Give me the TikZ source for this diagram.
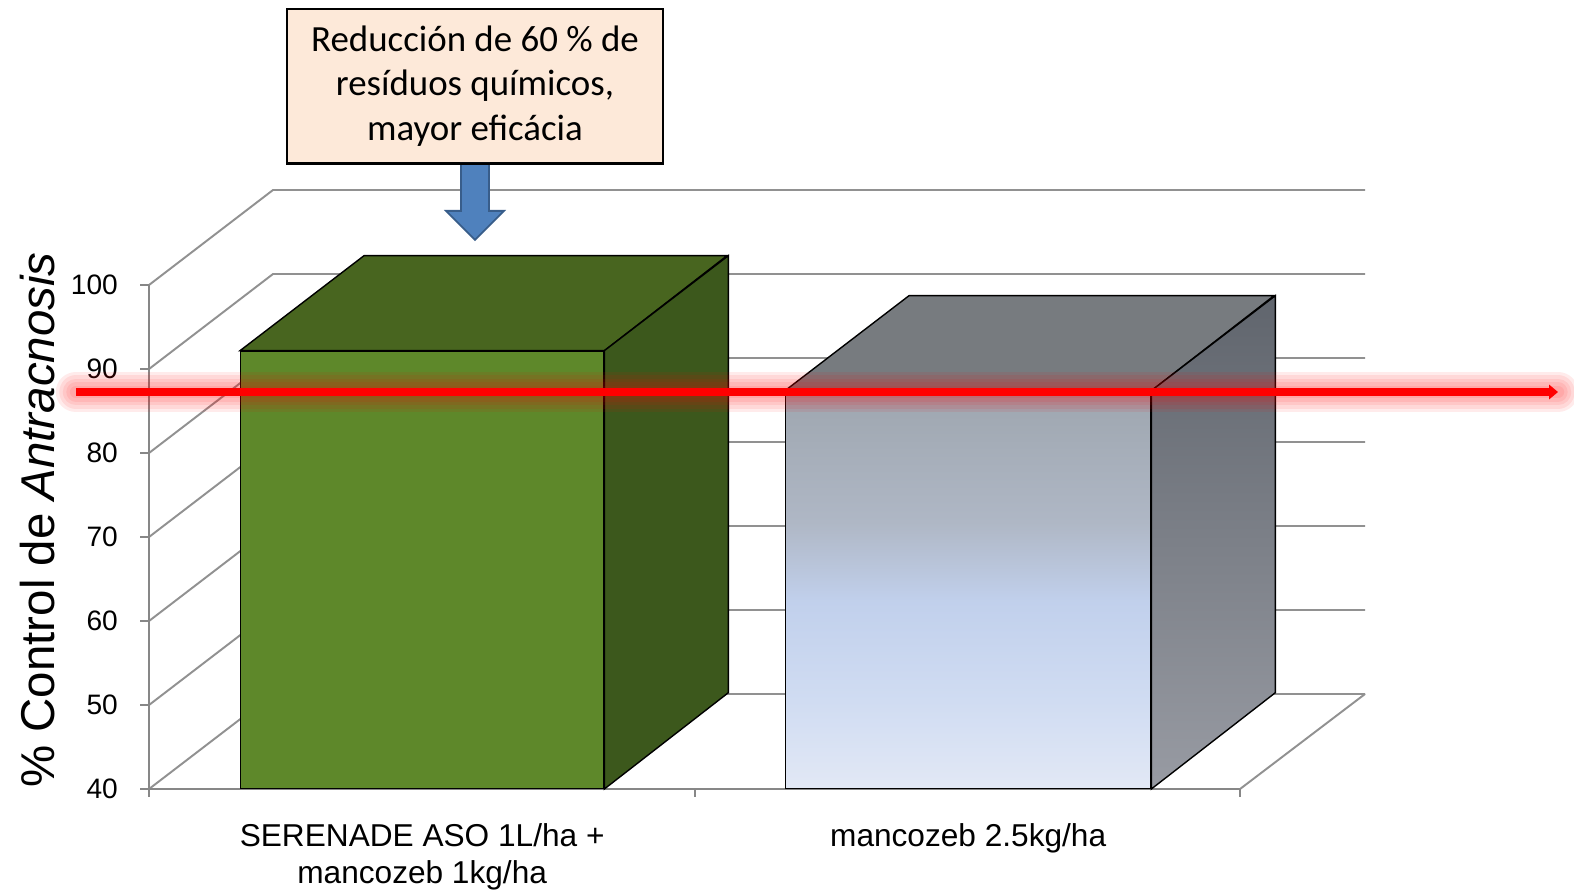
\documentclass[tikz,border=0pt]{standalone}
\usepackage{fontspec}
\setmainfont{Liberation Sans}
\newfontfamily\notefont{Carlito}
\usetikzlibrary{positioning,arrows.meta}

\definecolor{gridgray}{RGB}{145,145,145}
\definecolor{axisgray}{RGB}{135,135,135}
\definecolor{greenfront}{RGB}{94,136,42}
\definecolor{greentop}{RGB}{72,101,31}
\definecolor{greenside}{RGB}{60,88,28}
\definecolor{graytop}{RGB}{119,123,127}
\definecolor{notefill}{RGB}{253,233,217}
\definecolor{arrowblue}{RGB}{79,129,189}
\definecolor{arrowedge}{RGB}{56,93,138}

\pgfdeclareverticalshading{barblue}{100bp}{%
    rgb(0bp)=(0.886,0.910,0.961);
    rgb(25bp)=(0.886,0.910,0.961);
    rgb(36bp)=(0.816,0.863,0.949);
    rgb(48.5bp)=(0.757,0.816,0.925);
    rgb(58.5bp)=(0.686,0.718,0.773);
    rgb(75bp)=(0.620,0.651,0.686);
    rgb(100bp)=(0.620,0.651,0.686)}

\begin{document}
\begin{tikzpicture}[
    x=0.02cm, y=-0.02cm,
    every node/.style={font=\fontsize{16}{19}\selectfont},
    grid/.style={gridgray, line width=1.1pt},
    axis/.style={axisgray, line width=1.4pt},
    face/.style={draw=black, line width=0.8pt},
    front/.style={face, inner sep=0pt, anchor=south west},
    ticklabel/.style={anchor=east, font=\fontsize{16}{19}\selectfont},
    catlabel/.style={align=center, anchor=north, font=\fontsize{18}{21}\selectfont},
    note/.style={draw, line width=1pt, fill=notefill, minimum width=7.52cm, minimum height=3.08cm, align=center, font=\notefont\fontsize{21}{25.5}\selectfont}
]

\fill[white] (0,0) rectangle (1574,890);
\useasboundingbox (0,0) rectangle (1574,890);

% 网格线（后墙和左墙）
\foreach \v in {0,...,6} {
    \pgfmathsetmacro\yy{789-84*\v}
    \pgfmathtruncatemacro\lab{40+10*\v}
    \draw[grid] (149,\yy) -- ++(124,-95) -- (1365,{\yy-95});
    \draw[axis] (140,\yy) -- (149,\yy);
    \node[ticklabel] (tick\lab) at (124,\yy) {\lab};
}

% 坐标轴和底面
\draw[axis] (149,285) -- (149,797);
\draw[axis] (149,789) -- (1240,789);
\draw[grid] (1240,789) -- (1365,694);
\draw[axis] (695,789) -- (695,797);
\draw[axis] (1240,789) -- (1240,797);

% 第一根柱子
\node[front, fill=greenfront, minimum width=7.26cm, minimum height=8.74cm] (bar1) at (240,789) {};
\draw[face, fill=greentop] (bar1.north west) -- ++(124,-95) -- ++(363,0) -- (bar1.north east) -- cycle;
\draw[face, fill=greenside] (bar1.north east) -- ++(124,-95) -- ++(0,437) -- (bar1.south east) -- cycle;

% 第二根柱子
\node[front, minimum width=7.3cm, minimum height=7.94cm, shading=barblue] (bar2) at (785,789) {};
\draw[face, fill=graytop] (bar2.north west) -- ++(124,-95) -- ++(365,0) -- (bar2.north east) -- cycle;
\draw[face, top color={rgb,255:red,96;green,101;blue,109}, bottom color={rgb,255:red,152;green,155;blue,163}]
    (bar2.north east) -- ++(124,-95) -- ++(0,397) -- (bar2.south east) -- cycle;

% 轴标题和类别标签
\node[rotate=90, font=\fontsize{27}{32}\selectfont] (ytitle) at (38,520) {\% Control de \textit{Antracnosis}};
\node[catlabel] (cat1) at ([yshift=-0.56cm]bar1.south) {SERENADE ASO 1L/ha +\\mancozeb 1kg/ha};
\node[catlabel] (cat2) at ([yshift=-0.56cm]bar2.south) {mancozeb 2.5kg/ha};

% 红色参考线
\coordinate (rstart) at (76,392);
\coordinate (rend) at (1558,392);
\foreach \w in {23,19,15,11,7} {
    \draw[red, line width=\w pt, opacity=0.08, line cap=round] (rstart) -- (rend);
}
\draw[red, line width=4pt, -{Triangle[length=5pt,width=8pt]}] (rstart) -- (rend);

% 注释框和箭头
\node[note] (note) at (475,86) {Reducción de 60 \% de\\resíduos químicos,\\mayor eficácia};
\draw[arrowedge, fill=arrowblue, line width=1pt] ([xshift=-0.28cm]note.south) -- ++(0,47) -- ++(-15,0)
    -- ++(29,29) -- ++(29,-29) -- ++(-15,0) -- ++(0,-47) -- cycle;
\draw[line width=1pt] (note.south west) -- (note.south east);

\end{tikzpicture}
\end{document}
